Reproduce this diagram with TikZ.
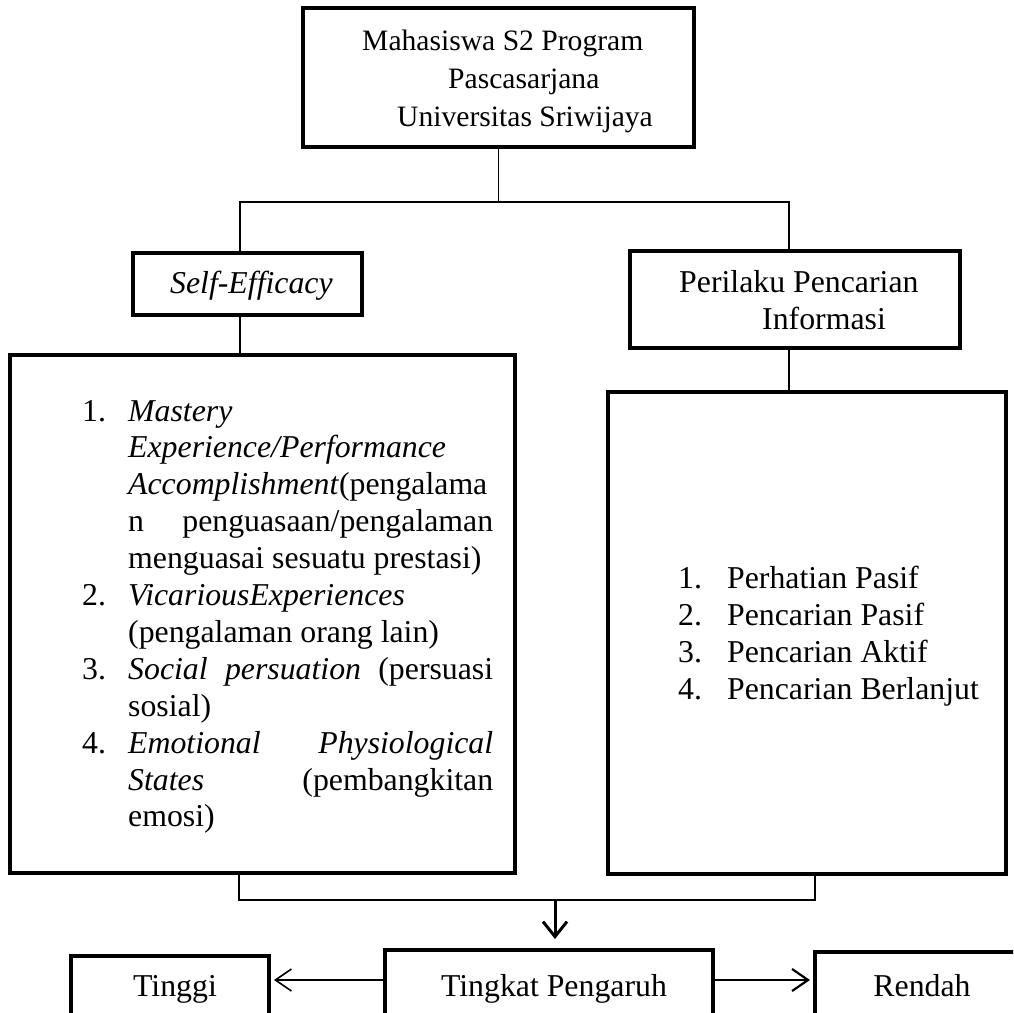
\documentclass[tikz,border=0pt]{standalone}
\usepackage{fontspec}
\setmainfont{Liberation Serif}
\usetikzlibrary{arrows.meta}
\newcommand{\lsitem}[3][l]{\noindent\makebox[46pt][l]{#2}\makebox[365pt][#1]{#3}\par}
\newcommand{\rsitem}[2]{\noindent\makebox[49pt][l]{#1}#2\par}
\begin{document}
\begin{tikzpicture}[x=1pt,y=-1pt,
  box/.style={draw, line width=4pt, inner sep=0pt},
  conn/.style={line width=1.6pt},
  txt/.style={inner sep=0pt, font=\fontsize{31.8}{37}\selectfont}]
\useasboundingbox (0,0) rectangle (1013,1013);
\clip (0,0) rectangle (1013,1013);
% boxes
\node[box, minimum width=391pt, minimum height=139pt] (top) at (498.5,77.5) {};
\node[box, minimum width=229pt, minimum height=62pt] (seff) at (247.5,284) {};
\node[box, minimum width=330pt, minimum height=97pt] (peri) at (795,299.5) {};
\node[box, minimum width=505pt, minimum height=518pt] (lbox) at (262.5,614) {};
\node[box, minimum width=398pt, minimum height=482pt] (rbox) at (807,633) {};
\node[box, minimum width=198pt, minimum height=84pt] (tinggi) at (170,998) {};
\node[box, minimum width=328pt, minimum height=90pt] (tingkat) at (549,995) {};
\node[box, minimum width=245pt, minimum height=88pt] (rendah) at (937.5,996) {};
% texts
\node[txt, anchor=base west] (toptext) at (362,50.7) {\begin{minipage}[t]{330pt}\fontsize{29.6}{37.7}\selectfont
Mahasiswa S2 Program\\\hspace*{86pt}Pascasarjana\\\hspace*{35pt}Universitas Sriwijaya\end{minipage}};
\node[txt, anchor=base west] (sefftext) at (170,293) {\textit{Self-Efficacy}};
\node[txt, anchor=base west] (peritext) at (679,292) {\begin{minipage}[t]{300pt}\fontsize{31.8}{37}\selectfont
Perilaku Pencarian\\\hspace*{83pt}Informasi\end{minipage}};
\node[txt, anchor=base west] (ltext) at (82,421) {\begin{minipage}[t]{420pt}\fontsize{31.8}{36.9}\selectfont
\lsitem{1.}{\textit{Mastery}}
\lsitem{}{\textit{Experience/Performance}}
\lsitem{}{\textit{Accomplishment}(pengalama}
\lsitem[s]{}{n penguasaan/pengalaman}
\lsitem{}{menguasai sesuatu prestasi)}
\lsitem{2.}{\textit{VicariousExperiences}}
\lsitem{}{(pengalaman orang lain)}
\lsitem[s]{3.}{\textit{Social persuation} (persuasi}
\lsitem{}{sosial)}
\lsitem[s]{4.}{\textit{Emotional Physiological}}
\lsitem[s]{}{\textit{States} (pembangkitan}
\lsitem{}{emosi)}
\end{minipage}};
\node[txt, anchor=base west] (rtext) at (678,588) {\begin{minipage}[t]{320pt}\fontsize{31.8}{37.3}\selectfont
\rsitem{1.}{Perhatian Pasif}
\rsitem{2.}{Pencarian Pasif}
\rsitem{3.}{Pencarian Aktif}
\rsitem{4.}{Pencarian Berlanjut}
\end{minipage}};
\node[txt, anchor=base] (tinggitext) at (175,996) {Tinggi};
\node[txt, anchor=base] (tingkattext) at (554,996) {Tingkat Pengaruh};
\node[txt, anchor=base] (rendahtext) at (922,996) {Rendah};
% connectors
\coordinate (hl) at (240,202);
\coordinate (hr) at (789,202);
\coordinate (bl) at (239,900);
\coordinate (br) at (815,900);
\coordinate (bm) at (555,900);
\coordinate (ay) at (0,980);
\draw[conn] (top.south) -- (top.south |- hl);
\draw[conn] (seff.north -| hl) -- (hl) -- (hr) -- (peri.north -| hr);
\draw[conn] (seff.south -| hl) -- (lbox.north -| hl);
\draw[conn] (peri.south -| hr) -- (rbox.north -| hr);
\draw[conn] (lbox.south -| bl) -- (bl) -- (br) -- (rbox.south -| br);
\draw[line width=3pt, shorten >=9pt, -{Straight Barb[length=15pt,width=24pt]}] (bm) -- (tingkat.north -| bm);
\draw[line width=1.6pt, shorten >=3pt, -{Straight Barb[length=16pt,width=22pt]}] (tingkat.west |- ay) -- (tinggi.east |- ay);
\draw[line width=2.2pt, shorten >=3pt, -{Straight Barb[length=16pt,width=22pt]}] (tingkat.east |- ay) -- (rendah.west |- ay);
\end{tikzpicture}
\end{document}
